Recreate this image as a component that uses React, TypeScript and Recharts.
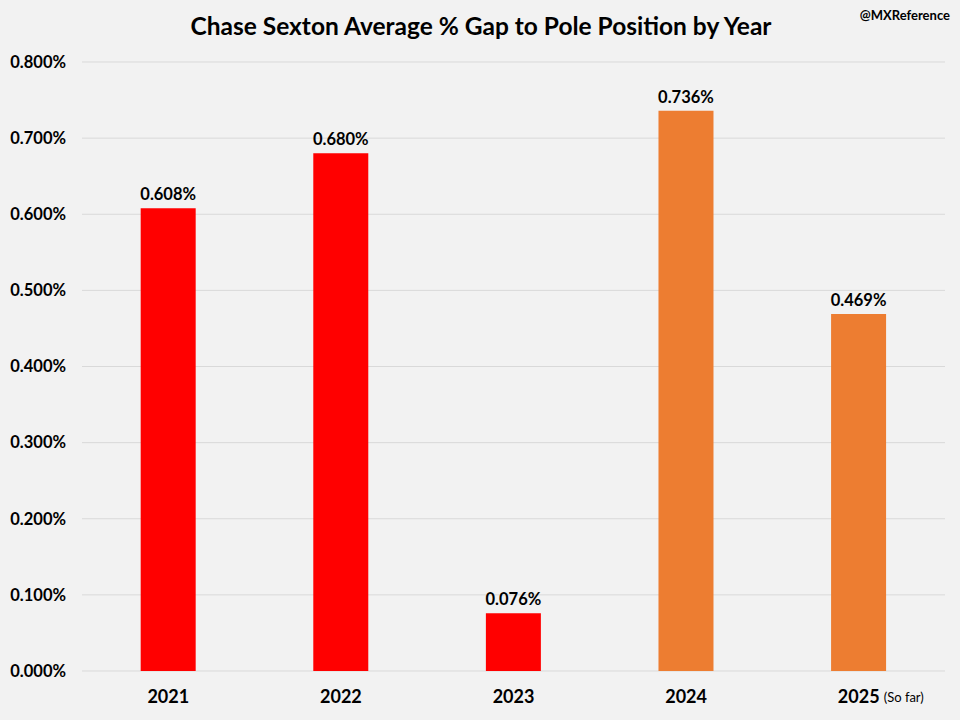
import React from "react";
import { BarChart, Bar, XAxis, YAxis, CartesianGrid, Cell, LabelList } from "recharts";

const years = ["2021", "2022", "2023", "2024", "2025"];
const gaps = [0.608, 0.68, 0.076, 0.736, 0.469];
const yTicks = [0, 0.1, 0.2, 0.3, 0.4, 0.5, 0.6, 0.7, 0.8];
const suffixes = ["", "", "", "", "(So far)"];

const RED = "#FF0000";
const ORANGE = "#ED7D31";
const barColors = [RED, RED, RED, ORANGE, ORANGE];

const data = years.map((y, i) => ({ year: y, gap: gaps[i], suffix: suffixes[i] }));

const FONT = "Lato, 'Open Sans', sans-serif";

const XTick = (props: any) => {
  const { x, y, payload, index } = props;
  const suf = suffixes[index] || "";
  return (
    <g transform={`translate(${x},${y})`}>
      <text x={0} y={0} dy={17} textAnchor="middle" fontFamily={FONT} fontWeight={700} fontSize={18} fill="#000">
        {payload.value}
      </text>
      {suf ? (
        <text x={25} y={0} dy={16} textAnchor="start" fontFamily={FONT} fontSize={13} fill="#000">
          {suf}
        </text>
      ) : null}
    </g>
  );
};

export default function App() {
  return (
    <div style={{ position: "absolute", left: 0, top: 0, width: 960, height: 720, background: "#F2F2F2", fontFamily: FONT }}>
      <div style={{ position: "absolute", left: 0, top: 11, width: 962, textAlign: "center", fontSize: 24.5, fontWeight: 700, color: "#000" }}>
        Chase Sexton Average % Gap to Pole Position by Year
      </div>
      <div style={{ position: "absolute", right: 10, top: 7, fontSize: 13, fontWeight: 700, color: "#000" }}>
        @MXReference
      </div>
      <div style={{ position: "absolute", left: 0, top: 0 }}>
        <BarChart width={960} height={720} data={data} margin={{ top: 62, right: 15, bottom: 19, left: 0 }} barCategoryGap="34%">
          <CartesianGrid vertical={false} stroke="#D9D9D9" strokeWidth={1} />
          <XAxis dataKey="year" height={30} tickLine={false} axisLine={false} tickSize={0} tickMargin={15} tick={<XTick />} interval={0} />
          <YAxis
            width={82}
            domain={[0, 0.8]}
            ticks={yTicks}
            tickLine={false}
            axisLine={false}
            tickSize={0}
            tickMargin={16}
            tickFormatter={(v: number) => v.toFixed(3) + "%"}
            tick={{ fontFamily: FONT, fontWeight: 700, fontSize: 16.5, fill: "#000" }}
            interval={0}
          />
          <Bar dataKey="gap" isAnimationActive={false}>
            {data.map((d, i) => (
              <Cell key={d.year} fill={barColors[i]} />
            ))}
            <LabelList
              dataKey="gap"
              position="top"
              offset={8}
              formatter={(v: number) => v.toFixed(3) + "%"}
              style={{ fontFamily: FONT, fontWeight: 700, fontSize: 16.5, fill: "#000" }}
            />
          </Bar>
        </BarChart>
      </div>
    </div>
  );
}
